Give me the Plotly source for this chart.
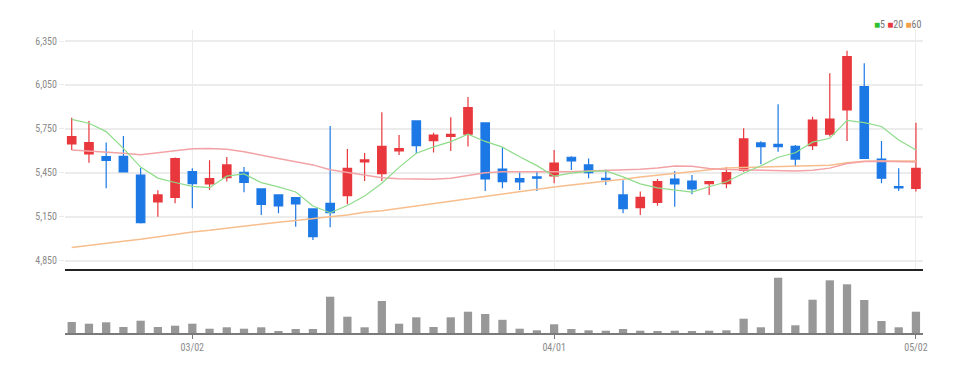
import plotly.graph_objects as go

dates = ["02/18", "02/21", "02/22", "02/23", "02/24", "02/25", "02/28",
         "03/02", "03/03", "03/04", "03/07", "03/08", "03/10", "03/11", "03/14", "03/15",
         "03/16", "03/17", "03/18", "03/21", "03/22", "03/23", "03/24", "03/25", "03/28",
         "03/29", "03/30", "03/31",
         "04/01", "04/04", "04/05", "04/06", "04/07", "04/08", "04/11", "04/12", "04/13",
         "04/14", "04/15", "04/18", "04/19", "04/20", "04/21", "04/22", "04/25", "04/26",
         "04/27", "04/28", "04/29", "05/02"]

open_ = [5648, 5580, 5561, 5563, 5436, 5252, 5284, 5459, 5375, 5418,
         5455, 5341, 5300, 5282, 5205, 5243, 5295, 5525, 5445, 5600,
         5805, 5670, 5700, 5714, 5791, 5477, 5411, 5423, 5430, 5557,
         5505, 5414, 5300, 5214, 5250, 5409, 5395, 5377, 5377, 5468,
         5655, 5645, 5632, 5636, 5714, 5880, 6039, 5545, 5357, 5345]
high = [5827, 5805, 5657, 5702, 5486, 5332, 5555, 5482, 5536, 5559,
        5491, 5341, 5305, 5282, 5205, 5770, 5614, 5586, 5864, 5709,
        5805, 5725, 5830, 5968, 5791, 5623, 5454, 5459, 5607, 5564,
        5548, 5473, 5400, 5323, 5409, 5464, 5436, 5391, 5491, 5755,
        5666, 5918, 5641, 5834, 6130, 6284, 6198, 5668, 5482, 5793]
low = [5607, 5520, 5345, 5457, 5105, 5152, 5243, 5209, 5334, 5391,
       5318, 5164, 5175, 5084, 4993, 5080, 5236, 5395, 5395, 5573,
       5584, 5589, 5600, 5630, 5327, 5345, 5334, 5327, 5380, 5470,
       5414, 5368, 5175, 5164, 5227, 5220, 5305, 5300, 5345, 5459,
       5509, 5595, 5493, 5607, 5698, 5668, 5545, 5380, 5327, 5323]
close = [5698, 5657, 5536, 5457, 5111, 5300, 5548, 5377, 5411, 5505,
         5386, 5236, 5225, 5239, 5016, 5180, 5482, 5539, 5632, 5616,
         5636, 5709, 5714, 5895, 5409, 5391, 5389, 5414, 5518, 5532,
         5452, 5405, 5207, 5284, 5391, 5375, 5341, 5391, 5452, 5682,
         5630, 5630, 5545, 5811, 5818, 6243, 5550, 5414, 5348, 5482]

ma5 = [5816, 5789, 5732, 5618, 5490, 5415, 5385, 5359, 5350, 5428,
       5443, 5384, 5355, 5320, 5225, 5179, 5228, 5293, 5380, 5488,
       5585, 5628, 5664, 5714, 5665, 5626, 5560, 5500, 5428, 5449,
       5461, 5464, 5423, 5376, 5348, 5332, 5320, 5356, 5390, 5448,
       5499, 5557, 5588, 5660, 5687, 5809, 5793, 5767, 5675, 5607]
ma20 = [5607, 5600, 5595, 5584, 5575, 5590, 5605, 5615, 5617, 5612,
        5595, 5570, 5548, 5527, 5505, 5472, 5455, 5436, 5418, 5410,
        5407, 5407, 5414, 5432, 5452, 5459, 5459, 5457, 5455, 5459,
        5464, 5468, 5470, 5475, 5484, 5498, 5495, 5480, 5474, 5472,
        5468, 5466, 5464, 5468, 5483, 5515, 5528, 5530, 5528, 5525]
ma60 = [4941, 4957, 4970, 4984, 4998, 5016, 5034, 5048, 5059, 5073,
        5091, 5104, 5114, 5125, 5136, 5152, 5164, 5182, 5193, 5209,
        5227, 5243, 5259, 5277, 5293, 5304, 5320, 5337, 5355, 5368,
        5380, 5391, 5407, 5423, 5436, 5450, 5462, 5475, 5484, 5488,
        5490, 5492, 5494, 5497, 5502, 5520, 5530, 5532, 5532, 5532]

volume = [11000, 9300, 10700, 6000, 12300, 6000, 7300, 9300, 4300, 5700,
          4300, 5700, 2000, 4000, 4000, 36300, 16300, 5700, 32000, 9300,
          15700, 6000, 15700, 21300, 19000, 13200, 4300, 2700, 8700, 4000,
          2700, 2300, 4000, 2300, 2000, 2300, 1300, 2300, 2700, 14300,
          5700, 55300, 7700, 33300, 52700, 48700, 33000, 12000, 5700, 21300]

price_ticks = [4850, 5150, 5450, 5750, 6050, 6350]
date_ticks = ["03/02", "04/01", "05/02"]

RED = "#e8383d"
BLUE = "#1c78e4"
C_MA5 = "#8fdc8a"
C_MA20 = "#f3a3a6"
C_MA60 = "#f8bd8c"
FONT = "Liberation Sans Narrow, Roboto Condensed, Arial Narrow, Roboto, sans-serif"

fig = go.Figure()

fig.add_trace(go.Scatter(x=dates, y=ma60, mode="lines", line=dict(color=C_MA60, width=1.5),
                         xaxis="x", yaxis="y", hoverinfo="skip"))
fig.add_trace(go.Scatter(x=dates, y=ma20, mode="lines", line=dict(color=C_MA20, width=1.5),
                         xaxis="x", yaxis="y", hoverinfo="skip"))
fig.add_trace(go.Scatter(x=dates, y=ma5, mode="lines", line=dict(color=C_MA5, width=1.2),
                         xaxis="x", yaxis="y", hoverinfo="skip"))
fig.add_trace(go.Candlestick(
    x=dates, open=open_, high=high, low=low, close=close,
    increasing=dict(line=dict(color=RED, width=1.2), fillcolor=RED),
    decreasing=dict(line=dict(color=BLUE, width=1.2), fillcolor=BLUE),
    xaxis="x", yaxis="y"))
fig.add_trace(go.Bar(x=dates, y=volume, marker=dict(color="#989898", line=dict(width=0)),
                     width=0.48, xaxis="x2", yaxis="y2"))

xr = [-0.39, 49.41]
fig.update_layout(
    width=965, height=374,
    margin=dict(l=57, r=50, t=22, b=49),
    paper_bgcolor="white", plot_bgcolor="white",
    showlegend=False,
    xaxis=dict(type="category", range=xr, domain=[0, 1], anchor="y",
               rangeslider=dict(visible=False),
               tickmode="array", tickvals=date_ticks, showticklabels=False,
               ticks="", showgrid=True, gridcolor="#ececec", gridwidth=1,
               showline=True, linecolor="#222222", linewidth=2, zeroline=False),
    yaxis=dict(domain=[0.2112, 1], range=[4795, 6425], anchor="x",
               tickmode="array", tickvals=price_ticks, tickformat=",d",
               showgrid=True, gridcolor="#ececec", gridwidth=1.5,
               ticks="outside", ticklen=5, tickcolor="#ececec",
               tickfont=dict(family=FONT, size=10, color="#8a8a8a"),
               showline=False, zeroline=False, automargin=False),
    xaxis2=dict(type="category", range=xr, domain=[0, 1], anchor="y2", matches="x",
                tickmode="array", tickvals=date_ticks,
                ticks="outside", ticklen=4, tickcolor="#777777",
                tickfont=dict(family=FONT, size=10, color="#8a8a8a"),
                showgrid=False, showline=True, linecolor="#7a7a7a", linewidth=2,
                zeroline=False, automargin=False),
    yaxis2=dict(domain=[0, 0.198], range=[0, 60000], anchor="x2",
                showticklabels=False, showgrid=False, ticks="",
                showline=False, zeroline=False),
    annotations=[dict(
        xref="paper", yref="paper", x=1.0, y=1.017, xanchor="right", yanchor="middle",
        showarrow=False,
        text=(f"<span style='color:#2fbf2f'>■</span>5 "
              f"<span style='color:{RED}'>■</span>20 "
              f"<span style='color:#f3a04a'>■</span>60"),
        font=dict(family=FONT, size=10, color="#777777"))],
)

fig.write_html("out.html")
